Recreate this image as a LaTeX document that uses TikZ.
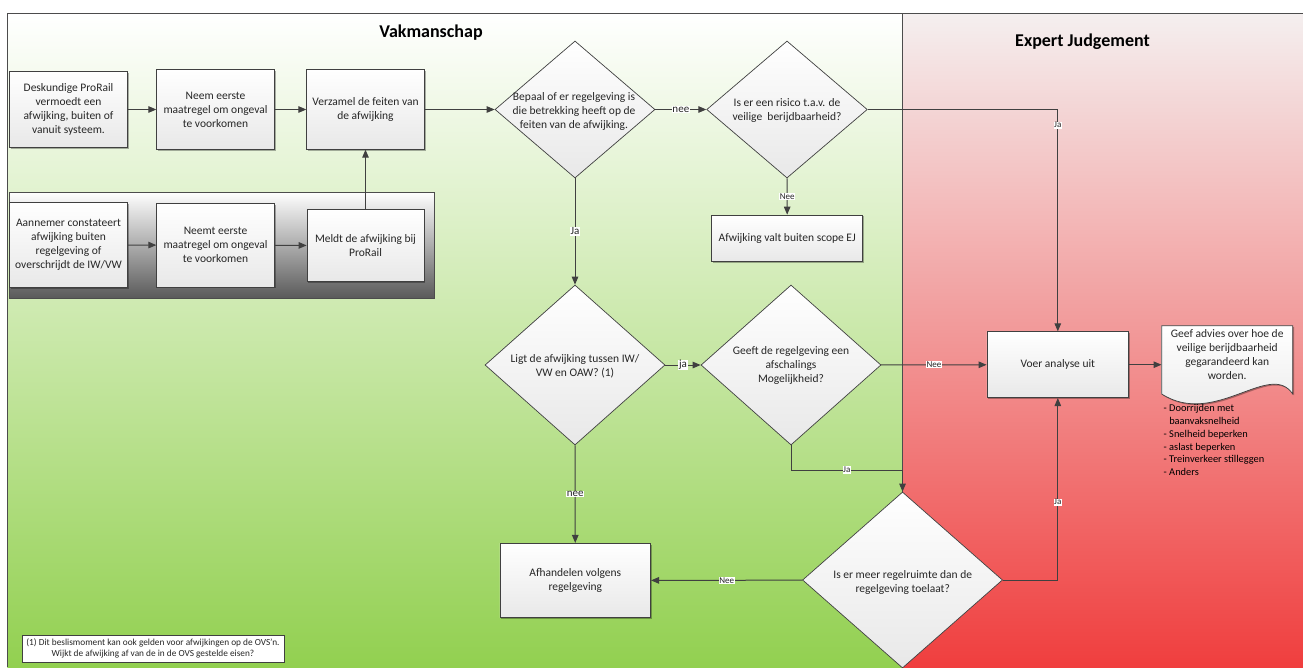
\documentclass[tikz,border=0pt]{standalone}
\usepackage{fontspec}
\setmainfont{Carlito}
\usetikzlibrary{shapes.geometric,arrows.meta,shadows}

\newcommand{\boxfont}{\fontsize{11.5}{14}\selectfont}

\begin{document}
\begin{tikzpicture}[x=1pt,y=-1pt,
  lane/.style={draw=black!70, line width=0.8pt},
  proc/.style={draw=black!75, line width=0.7pt, top color=white, bottom color=black!9,
    align=center, font=\boxfont, text=black!85, inner sep=1pt,
    drop shadow={shadow xshift=1.3pt, shadow yshift=-1.3pt, opacity=0.3, fill=black}},
  decision/.style={diamond, draw=black!75, line width=0.7pt, top color=white, bottom color=black!9, inner sep=0pt},
  dtext/.style={align=center, font=\boxfont, text=black!85, inner sep=0pt},
  conn/.style={draw=black!75, line width=1pt, -{Triangle[length=8pt,width=6.5pt]}},
  lbl/.style={fill=white, inner sep=0.6pt, font=\fontsize{11}{12}\selectfont, text=black!85},
  slbl/.style={fill=white, inner sep=0.6pt, font=\fontsize{9}{10}\selectfont, text=black!85},
]
\useasboundingbox (0,0) rectangle (1303,667);

\path[top color=white, middle color={rgb,255:red,208;green,231;blue,186}, bottom color={rgb,255:red,146;green,208;blue,80}] (7.3,13.5) rectangle (902.3,667);
\path[top color={rgb,255:red,244;green,239;blue,239}, middle color={rgb,255:red,242;green,165;blue,165}, bottom color={rgb,255:red,240;green,62;blue,62}] (902.3,13.5) rectangle (1303,667);
\draw[lane] (7.3,667) -- (7.3,13.5) -- (1303,13.5);
\draw[lane] (902.3,13.5) -- (902.3,667);
\path[draw=black!70, line width=0.7pt, top color=white, bottom color=black!65] (9.3,192) rectangle (434,298.5);

\node[font=\fontsize{18}{20}\selectfont\bfseries] (vak) at (431,33) {Vakmanschap};
\node[font=\fontsize{18}{20}\selectfont\bfseries] (ej) at (1082.5,42) {Expert Judgement};

\node[proc, minimum width=118.4, minimum height=75.6] (melding) at (68.5,109.5) {Deskundige ProRail\\vermoedt een\\afwijking, buiten of\\vanuit systeem.};
\node[proc, minimum width=117.6, minimum height=79.6] (maatregel) at (215.5,109.5) {Neem eerste\\maatregel om ongeval\\te voorkomen};
\node[proc, minimum width=117.6, minimum height=79.6] (feiten) at (365.5,109.5) {Verzamel de feiten van\\de afwijking};
\node[proc, minimum width=118.4, minimum height=85] (aannemer) at (68.5,244.8) {Aannemer constateert\\afwijking buiten\\regelgeving of\\overschrijdt de IW/VW};
\node[proc, minimum width=117.6, minimum height=83.3] (amaatregel) at (215.5,245.3) {Neemt eerste\\maatregel om ongeval\\te voorkomen};
\node[proc, minimum width=117, minimum height=72.4] (meldt) at (365.5,245.5) {Meldt de afwijking bij\\ProRail};

\node[decision, minimum width=160, minimum height=137] (regel) at (575,109.5) {};
\node[dtext] (regelt) at (574,111) {Bepaal of er regelgeving is\\die betrekking heeft op de\\feiten van de afwijking.};
\node[decision, minimum width=160.6, minimum height=137] (risico) at (787,109.5) {};
\node[dtext] (risicot) at (787,110) {Is er een risico t.a.v. de\\veilige~ berijdbaarheid?};
\node[proc, minimum width=151, minimum height=46.3] (scope) at (787.2,238.2) {Afwijking valt buiten scope EJ};

\node[decision, minimum width=180, minimum height=160] (tussen) at (575,365) {};
\node[dtext] (tussent) at (575,366.5) {Ligt de afwijking tussen IW/\\VW en OAW? (1)};
\node[decision, minimum width=180, minimum height=160] (afschaal) at (791,365) {};
\node[dtext] (afschaalt) at (791,365.5) {Geeft de regelgeving een\\afschalings\\Mogelijkheid?};

\node[proc, minimum width=150.7, minimum height=74.4] (afhandel) at (575.3,580.5) {Afhandelen volgens\\regelgeving};
\node[decision, minimum width=200, minimum height=176] (ruimte) at (902.5,580) {};
\node[dtext] (ruimtet) at (902.7,582) {Is er meer regelruimte dan de\\regelgeving toelaat?};

\node[proc, minimum width=141.7, minimum height=66] (analyse) at (1057.8,364.7) {Voer analyse uit};

\path[draw=black!75, line width=0.7pt, top color=white, bottom color=black!9,
  drop shadow={shadow xshift=1.3pt, shadow yshift=-1.3pt, opacity=0.3, fill=black}]
  (1161.7,325.7) -- (1292.7,325.7) -- (1292.7,394) .. controls (1270,360) and (1215,428) .. (1161.7,394) -- cycle;
\node[dtext, minimum width=131, minimum height=58.6] (advies) at (1227.2,355) {Geef advies over hoe de\\veilige berijdbaarheid\\gegarandeerd kan\\worden.};
\node[anchor=north west, align=left, inner sep=0pt, font=\fontsize{10.4}{12.7}\selectfont] (opties) at (1163.5,404.5)
  {- Doorrijden met\\\hphantom{- }baanvaksnelheid\\- Snelheid beperken\\- aslast beperken\\- Treinverkeer stilleggen\\- Anders};

\node[draw=black!75, line width=0.7pt, fill=white, align=center, inner sep=1pt, minimum width=262, minimum height=27,
  font=\fontsize{9.3}{11.5}\selectfont, text=black!85,
  drop shadow={shadow xshift=1.3pt, shadow yshift=-1.3pt, opacity=0.3, fill=black}] (noot) at (153,648.5)
  {(1) Dit beslismoment kan ook gelden voor afwijkingen op de OVS'n.\\Wijkt de afwijking af van de in de OVS gestelde eisen?};

\coordinate (jabocht) at (902.5,470);

\draw[conn] (melding) -- (maatregel);
\draw[conn] (maatregel) -- (feiten);
\draw[conn] (aannemer) -- (amaatregel);
\draw[conn] (amaatregel) -- (meldt);
\draw[conn] (meldt) -- (feiten);
\draw[conn] (feiten) -- (regel);
\draw[conn] (regel) -- node[lbl]{nee} (risico);
\draw[conn] (risico.east) -| node[slbl, pos=0.535]{Ja} (analyse.north);
\draw[conn] (risico) -- node[slbl]{Nee} (scope);
\draw[conn] (regel) -- node[lbl]{Ja} (tussen);
\draw[conn] (tussen) -- node[lbl]{ja} (afschaal);
\draw[conn] (afschaal) -- node[slbl]{Nee} (analyse);
\draw[conn] (afschaal.south) |- node[slbl, pos=0.75]{Ja} (jabocht) -- (ruimte.north);
\draw[conn] (tussen) -- node[lbl]{nee} (afhandel);
\draw[conn] (ruimte) -- node[slbl]{Nee} (afhandel);
\draw[conn] (ruimte.east) -| node[slbl, pos=0.714]{Ja} (analyse.south);
\draw[conn] (analyse.east) -- (analyse.east -| advies.west);
\end{tikzpicture}
\end{document}
